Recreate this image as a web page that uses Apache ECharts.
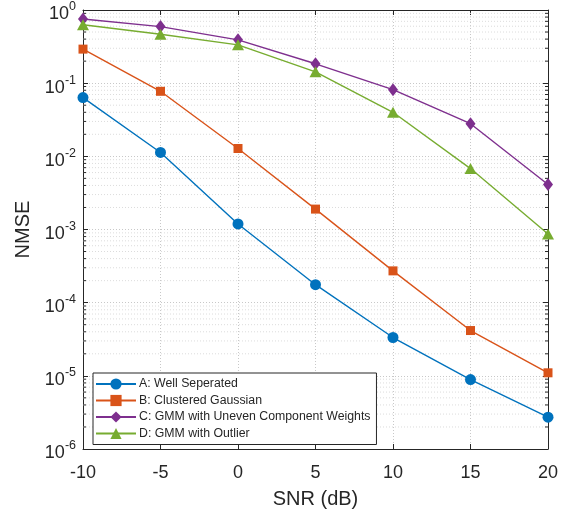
<!DOCTYPE html>
<html>
<head>
<meta charset="utf-8">
<script src="https://cdn.jsdelivr.net/npm/echarts@6/dist/echarts.min.js"></script>
<style>
  html, body { margin: 0; padding: 0; background: #fff; }
  #chart { width: 567px; height: 514px; }
</style>
</head>
<body>
<div id="chart"></div>
<script>
// SNR sweep (dB) and NMSE per scenario
const snr = [-10, -5, 0, 5, 10, 15, 20];
const nmseA = [0.0635, 0.0113, 0.00119, 1.76e-4, 3.34e-5, 8.9e-6, 2.72e-6];
const nmseB = [0.292, 0.0774, 0.0128, 0.0019, 2.72e-4, 4.16e-5, 1.10e-5];
const nmseC = [0.755, 0.593, 0.391, 0.184, 0.0816, 0.0279, 0.00412];
const nmseD = [0.63, 0.467, 0.334, 0.143, 0.040, 0.0068, 0.00087];
const seriesNames = [
  'A: Well Seperated',
  'B: Clustered Gaussian',
  'C: GMM with Uneven Component Weights',
  'D: GMM with Outlier'
];
const xTicks = [-10, -5, 0, 5, 10, 15, 20];
const yDecades = [-6, -5, -4, -3, -2, -1, 0];

const colors = ['#0072BD', '#D95319', '#7E2F8E', '#77AC30'];
const symbols = ['circle', 'rect', 'diamond', 'triangle'];
const symbolSizes = [11, 9, [10, 13], [12, 11]];
const axisColor = '#262626';
const font = '"Liberation Sans", Arial, Helvetica, sans-serif';

// minor log grid values: 2..9 × 10^n
const minorVals = [];
for (let e = yDecades[0]; e < yDecades[yDecades.length - 1]; e++) {
  for (let k = 2; k <= 9; k++) minorVals.push([xTicks[0], k * Math.pow(10, e)]);
}

const chart = echarts.init(document.getElementById('chart'), null, { renderer: 'canvas' });

function pair(a) { return snr.map((x, i) => [x, a[i]]); }
const allData = [nmseA, nmseB, nmseC, nmseD];

const lineSeries = allData.map((d, i) => ({
  name: seriesNames[i],
  type: 'line',
  data: pair(d),
  symbol: symbols[i],
  symbolSize: symbolSizes[i],
  showAllSymbol: true,
  z: 5 + i,
  lineStyle: { color: colors[i], width: 1.4 },
  itemStyle: { color: colors[i], borderWidth: 0 },
  emphasis: { disabled: true },
  clip: false
}));

chart.setOption({
  animation: false,
  backgroundColor: '#fff',
  textStyle: { fontFamily: font },
  grid: { left: 83, right: 19, top: 10, bottom: 63, containLabel: false },
  legend: {
    orient: 'vertical',
    left: 93,
    top: 373,
    data: seriesNames,
    backgroundColor: '#fff',
    borderColor: axisColor,
    borderWidth: 1,
    borderRadius: 0,
    padding: [5, 6, 5, 2],
    itemGap: 4.5,
    itemWidth: 40,
    itemHeight: 14,
    textStyle: { fontSize: 12.3, color: axisColor, fontFamily: font, padding: [0, 0, 0, -2] }
  },
  xAxis: [{
    type: 'value',
    min: -10, max: 20, interval: 5,
    name: 'SNR (dB)',
    nameLocation: 'middle',
    nameGap: 40,
    nameTextStyle: { fontSize: 20, color: axisColor, fontFamily: font },
    axisLine: { show: true, onZero: false, lineStyle: { color: axisColor, width: 1 } },
    axisTick: { show: true, inside: true, length: 5, lineStyle: { color: axisColor } },
    axisLabel: { fontSize: 18, color: axisColor, margin: 15, fontFamily: font },
    splitLine: { show: true, lineStyle: { color: '#c8c8c8', type: [1, 2], width: 1 } }
  }, {
    type: 'value',
    position: 'top',
    min: -10, max: 20, interval: 5,
    axisLine: { show: true, onZero: false, lineStyle: { color: axisColor, width: 1 } },
    axisTick: { show: true, inside: true, length: 5, lineStyle: { color: axisColor } },
    axisLabel: { show: false },
    splitLine: { show: false }
  }],
  yAxis: [{
    type: 'log',
    logBase: 10,
    min: 1e-6, max: 1,
    name: 'NMSE',
    nameLocation: 'middle',
    nameGap: 46,
    nameRotate: 90,
    nameTextStyle: { fontSize: 20, color: axisColor, fontFamily: font },
    axisLine: { show: true, onZero: false, lineStyle: { color: axisColor, width: 1 } },
    axisTick: { show: true, inside: true, length: 5, lineStyle: { color: axisColor } },
    axisLabel: {
      color: axisColor,
      margin: 7,
      formatter: function (v) {
        const e = Math.round(Math.log10(v));
        return '{b|10}{s|' + e + '}';
      },
      rich: {
        b: { fontSize: 18, color: axisColor, fontFamily: font, padding: [9, 0, 0, 0] },
        s: { fontSize: 12.5, color: axisColor, fontFamily: font, padding: [0, 0, 6, 0] }
      }
    },
    splitLine: { show: true, lineStyle: { color: '#c8c8c8', type: [1, 2], width: 1 } }
  }, {
    type: 'log',
    logBase: 10,
    position: 'right',
    min: 1e-6, max: 1,
    axisLine: { show: true, onZero: false, lineStyle: { color: axisColor, width: 1 } },
    axisTick: { show: true, inside: true, length: 5, lineStyle: { color: axisColor } },
    axisLabel: { show: false },
    splitLine: { show: false }
  }],
  series: [{
    // minor log grid lines with short inward ticks on both sides
    type: 'custom',
    silent: true,
    z: 1,
    clip: false,
    data: minorVals,
    encode: { x: 0, y: 1 },
    renderItem: function (params, api) {
      const v = api.value(1);
      const p1 = api.coord([xTicks[0], v]);
      const p2 = api.coord([xTicks[xTicks.length - 1], v]);
      return {
        type: 'group',
        children: [{
          type: 'line',
          shape: { x1: p1[0], y1: p1[1], x2: p2[0], y2: p2[1] },
          style: { stroke: '#dcdcdc', lineWidth: 1, lineDash: [1, 2] }
        }, {
          type: 'line',
          shape: { x1: p1[0], y1: p1[1], x2: p1[0] + 3, y2: p1[1] },
          style: { stroke: axisColor, lineWidth: 1 }
        }, {
          type: 'line',
          shape: { x1: p2[0] - 3, y1: p2[1], x2: p2[0], y2: p2[1] },
          style: { stroke: axisColor, lineWidth: 1 }
        }]
      };
    }
  }].concat(lineSeries)
});
</script>
</body>
</html>
